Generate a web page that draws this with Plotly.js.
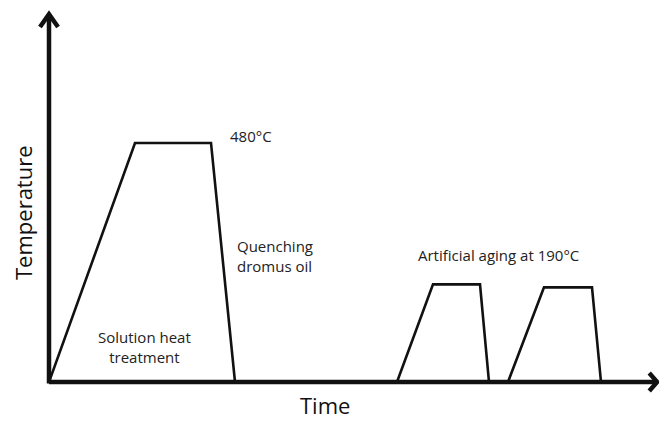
<!DOCTYPE html>
<html>
<head>
<meta charset="utf-8">
<script src="https://cdn.plot.ly/plotly-3.0.1.min.js"></script>
<style>html,body{margin:0;padding:0;background:#fff;}#chart{width:659px;height:421px;}</style>
</head>
<body>
<div id="chart"></div>
<script>
// Time (arbitrary units) and temperature (°C) of the heat-treatment cycle
const timePoints = [0, 8.6, 16.2, 18.6, 34.8, 38.4, 43.1, 44.0, 45.9, 49.5, 54.3, 55.2];
const tempPoints = [0, 480, 480, 0, 0, 196, 196, 0, 0, 190, 190, 0];

// Labels placed in data units (time, temperature)
const labelTexts = ["480°C", "Quenching<br>dromus oil", "Solution heat<br>treatment", "Artificial aging at 190°C"];
const labelTimes = [20.2, 18.6, 9.5, 44.9];
const labelTemps = [494, 253, 70, 255];
const labelAnchors = ["center", "left", "center", "center"];
const labelAligns = ["center", "left", "center", "center"];

const xTitle = "Time";
const yTitle = "Temperature";

const FONT = "Open Sans, Noto Sans, sans-serif";
const INK = "#111";

const annotations = labelTexts.map((t, i) => ({
  text: t, x: labelTimes[i], y: labelTemps[i], xref: "x", yref: "y",
  xanchor: labelAnchors[i], yanchor: "middle", align: labelAligns[i],
  showarrow: false, font: {family: FONT, size: 15, color: "#222"}
}));
annotations.push({text: xTitle, xref: "paper", yref: "paper", x: (325 - 49) / 610, y: -23 / 369,
  xanchor: "center", yanchor: "middle", showarrow: false,
  font: {family: FONT, size: 22, color: INK}});
annotations.push({text: yTitle, xref: "paper", yref: "paper", x: -26 / 610, y: (382 - 213) / 369,
  xanchor: "center", yanchor: "middle", textangle: -90, showarrow: false, font: {family: FONT, size: 22, color: INK}});

const axisStyle = {showgrid: false, zeroline: false, showticklabels: false, ticks: "", showline: false, fixedrange: true};

const layout = {
  width: 659, height: 421,
  margin: {l: 49, r: 0, t: 13, b: 39},
  paper_bgcolor: "#fff", plot_bgcolor: "#fff",
  showlegend: false,
  xaxis: Object.assign({range: [0, 61]}, axisStyle),
  yaxis: Object.assign({range: [0, 741]}, axisStyle),
  annotations: annotations,
  shapes: [
    {type: "line", xref: "paper", yref: "paper", x0: 0, y0: 0, x1: 0.997, y1: 0, line: {color: INK, width: 4.5}},
    {type: "line", xref: "paper", yref: "paper", x0: 0, y0: -0.004, x1: 0, y1: 0.997, line: {color: INK, width: 4.5}},
    {type: "path", xref: "paper", yref: "paper",
      path: "M -0.0148,0.962 L 0,0.997 L 0.0148,0.962", line: {color: INK, width: 4.5}},
    {type: "path", xref: "paper", yref: "paper",
      path: "M 0.984,0.0245 L 0.997,0 L 0.984,-0.0245", line: {color: INK, width: 4.5}}
  ]
};

Plotly.newPlot("chart", [{
  type: "scatter", mode: "lines", x: timePoints, y: tempPoints,
  line: {color: INK, width: 2.6}, cliponaxis: false, hoverinfo: "skip"
}], layout, {displayModeBar: false, staticPlot: true});
</script>
</body>
</html>
